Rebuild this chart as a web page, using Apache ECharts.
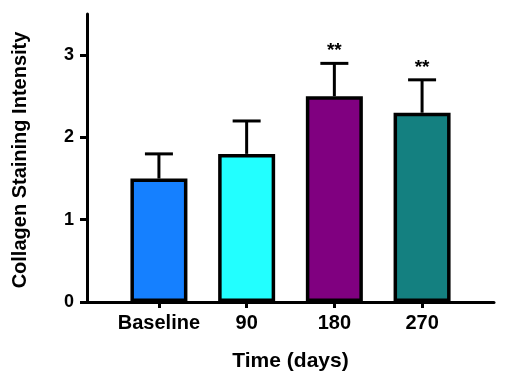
<!DOCTYPE html>
<html><head><meta charset="utf-8">
<script src="https://cdn.jsdelivr.net/npm/echarts@6/dist/echarts.min.js"></script>
<style>html,body{margin:0;padding:0;background:#fff}#c{width:509px;height:381px}</style>
</head><body><div id="c"></div>
<script>
var categories = ['Baseline', '90', '180', '270'];
var means = [1.5, 1.8, 2.5, 2.3];
var sdUpper = [0.3, 0.4, 0.4, 0.4];
var significance = ['', '', '**', '**'];
var barColors = ['#1580FF', '#22FFFF', '#800080', '#148080'];
var yTicks = [0, 1, 2, 3];

var positions = categories.map(function (c, i) { return i + 1; });
var FONT = '"Liberation Sans", Arial, sans-serif';

var chart = echarts.init(document.getElementById('c'));
chart.setOption({
  animation: false,
  grid: { left: 87, right: 15, top: 14, bottom: 79 },
  xAxis: {
    type: 'value', min: 0.18, max: 4.82,
    splitLine: { show: false },
    axisLine: { show: true, onZero: false, lineStyle: { color: '#000', width: 3 } },
    axisTick: { show: true, customValues: positions, length: 6, lineStyle: { color: '#000', width: 3 } },
    axisLabel: { customValues: positions, color: '#000', fontWeight: 'bold', fontSize: 20, fontFamily: FONT, margin: 11,
      formatter: function (v) { return categories[Math.round(v) - 1] || ''; } },
    name: 'Time (days)', nameLocation: 'middle', nameGap: 49,
    nameTextStyle: { color: '#000', fontWeight: 'bold', fontSize: 21, fontFamily: FONT }
  },
  yAxis: {
    type: 'value', min: 0, max: 3.5, interval: 1,
    splitLine: { show: false },
    axisLine: { show: true, lineStyle: { color: '#000', width: 3 } },
    axisTick: { show: true, customValues: yTicks, length: 7, lineStyle: { color: '#000', width: 3 } },
    axisLabel: { customValues: yTicks, color: '#000', fontWeight: 'bold', fontSize: 18, fontFamily: FONT, margin: 13 }
  },
  graphic: [{
    type: 'text', x: 20, y: 160, rotation: Math.PI / 2,
    style: { text: 'Collagen Staining Intensity', fill: '#000', fontWeight: 'bold', fontSize: 20, fontFamily: FONT,
      align: 'center', verticalAlign: 'middle' }
  }],
  series: [{
    type: 'bar', barWidth: 57,
    data: means.map(function (m, i) {
      return { value: [positions[i], m], itemStyle: { color: barColors[i], borderColor: '#000', borderWidth: 3.5 } };
    }),
    z: 2
  }, {
    type: 'custom', z: 1,
    data: means.map(function (m, i) { return [positions[i], m, m + sdUpper[i], i]; }),
    renderItem: function (params, api) {
      var x = api.value(0), lo = api.value(1), hi = api.value(2), idx = api.value(3);
      var pLo = api.coord([x, lo]), pHi = api.coord([x, hi]);
      var children = [
        { type: 'line', shape: { x1: pLo[0], y1: pLo[1], x2: pHi[0], y2: pHi[1] }, style: { stroke: '#000', lineWidth: 3 } },
        { type: 'line', shape: { x1: pHi[0] - 14, y1: pHi[1], x2: pHi[0] + 14, y2: pHi[1] }, style: { stroke: '#000', lineWidth: 3 } }
      ];
      if (significance[idx]) {
        children.push({ type: 'text', x: pHi[0], y: pHi[1] - 3,
          style: { text: significance[idx], fill: '#000', fontSize: 19, fontWeight: 'bold', fontFamily: FONT, align: 'center', verticalAlign: 'bottom' } });
      }
      return { type: 'group', children: children };
    }
  }]
});
</script></body></html>
